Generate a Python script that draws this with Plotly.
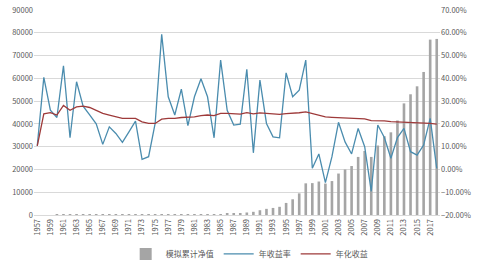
import plotly.graph_objects as go

years = [str(y) for y in range(1957, 2019)]

nav = [1.1, 1.5, 1.9, 2.4, 3.5, 4.0, 5.5, 7.0, 8.7, 10.4, 11.5, 13.7, 15.8, 17.7, 20.6, 25.0,
       26.1, 27.6, 33, 53, 70, 86, 117, 139, 184, 257, 339, 300, 420, 530, 640, 770,
       1100, 1400, 2100, 2700, 3100, 3600, 5300, 6900, 9500, 13900, 14000, 14700, 13800,
       14900, 18200, 20000, 21500, 25500, 28100, 25500, 30500, 34600, 36300, 41500,
       49000, 53000, 56500, 62800, 77000, 77300]

annual = [10.4, 40.4, 26, 22.8, 45.5, 13.9, 38.5, 27.8, 24.0, 20.0, 11, 18.7, 15.8, 11.9,
          16.5, 21.2, 4.4, 5.6, 20.2, 59.3, 31.9, 23.9, 35.3, 19.2, 31.9, 39.8, 31.9, 13.9,
          48, 26, 19.5, 19.9, 44, 7.3, 39.2, 20.2, 14.3, 13.9, 42.4, 31.9, 34.8, 48, 0.5,
          6.8, -5.8, 5.6, 20.7, 12.1, 6.8, 18, 10, -9.6, 19.5, 14, 4.9, 14, 18, 7.8, 6.3,
          10.7, 22.4, 0.5]

annualized = [10.4, 24.4, 24.9, 23.9, 28.1, 26, 27.5, 27.8, 27.2, 26, 24.6, 23.9, 23.1, 22.4,
              22.4, 22.4, 20.9, 20.2, 20.2, 22.1, 22.4, 22.4, 22.8, 22.8, 23.1, 23.6, 23.9,
              23.6, 24.6, 24.6, 24.3, 24.3, 24.9, 24.4, 24.8, 24.6, 24.4, 24.2, 24.5, 24.6,
              24.9, 25.3, 24.6, 23.9, 23.1, 22.9, 22.8, 22.7, 22.4, 22.4, 22.2, 21.4, 21.4,
              21.3, 21.0, 20.9, 20.8, 20.5, 20.3, 20.2, 20.2, 19.9]

names = ["模拟累计净值", "年收益率", "年化收益"]

annual_f = [v / 100 for v in annual]
annualized_f = [v / 100 for v in annualized]

font_family = "Noto Sans CJK SC, Noto Sans, sans-serif"
tick_color = "#595959"

fig = go.Figure()
fig.add_trace(go.Bar(x=years, y=nav, name=names[0], marker=dict(color="#A5A5A5", line=dict(width=0)),
                     yaxis="y"))
fig.add_trace(go.Scatter(x=years, y=annual_f, name=names[1], mode="lines",
                         line=dict(color="#4A8CAE", width=1.3), yaxis="y2"))
fig.add_trace(go.Scatter(x=years, y=annualized_f, name=names[2], mode="lines",
                         line=dict(color="#9E3A3A", width=1.3), yaxis="y2"))

fig.update_layout(
    width=480, height=265,
    margin=dict(l=34, r=40, t=10, b=50, autoexpand=False),
    paper_bgcolor="white", plot_bgcolor="white",
    font=dict(family=font_family, size=8, color=tick_color),
    bargap=0.6,
    showlegend=True,
    legend=dict(orientation="h", x=0.53, xanchor="center", y=-0.19, yanchor="middle",
                font=dict(size=8, color=tick_color), itemwidth=30, tracegroupgap=0,
                bgcolor="rgba(0,0,0,0)"),
    xaxis=dict(type="category", tickangle=-90, tickmode="array",
               tickvals=years[::2], ticktext=years[::2], automargin=False,
               showgrid=False, showline=True, linecolor="#D9D9D9", linewidth=1,
               ticks="", tickfont=dict(size=7.5, color=tick_color)),
    yaxis=dict(range=[0, 90000], dtick=10000, tickformat="d", showgrid=True,
               gridcolor="#D9D9D9", gridwidth=1, zeroline=False, ticks="",
               automargin=False, tickfont=dict(size=7.5, color=tick_color)),
    yaxis2=dict(range=[-0.2, 0.7], dtick=0.1, tickformat=".2%", overlaying="y",
                side="right", showgrid=False, zeroline=False, ticks="",
                automargin=False, tickfont=dict(size=7.5, color=tick_color)),
)

fig.write_html("out.html")
